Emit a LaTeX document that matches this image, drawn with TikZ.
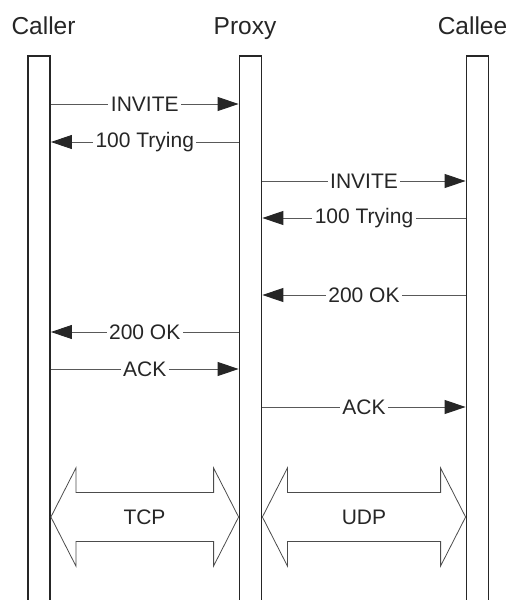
\documentclass[tikz,border=0pt]{standalone}
\usepackage{fontspec}
\setmainfont{Liberation Sans}
\usetikzlibrary{arrows.meta,calc}

\begin{document}
\begin{tikzpicture}[x=1pt,y=-1pt]
\tikzset{lifeline/.style={rectangle, draw=black!85, line width=1.8pt, minimum width=22pt, minimum height=560pt, inner sep=0pt, anchor=north},
  title/.style={font=\fontsize{24.5}{28}\selectfont, text=black!85, anchor=base},
  msg/.style={draw=black!65, line width=0.9pt, -{Triangle[length=21pt,width=14pt,fill=black!85,color=black!85]}},
  lbl/.style={font=\fontsize{21}{24}\selectfont, text=black!85, fill=white, inner xsep=2.5pt, inner ysep=1pt},
  proto/.style={font=\fontsize{21}{24}\selectfont, text=black!85},
  pipe/.style={draw=black!70, line width=0.8pt, line join=miter}}
\useasboundingbox (0,0) rectangle (511,600);
\clip (0,0) rectangle (511,600);

% lifelines
\node[lifeline] (caller) at (39,55) {};
\node[lifeline] (proxy) at (250.5,55) {};
\node[lifeline] (callee) at (477.5,55) {};
\node[title] (tcaller) at (43.5,34) {Caller};
\node[title] (tproxy) at (245,34) {Proxy};
\node[title] (tcallee) at (472.5,34) {Callee};

% messages
\draw[msg] (caller.east |- 0,104) -- node[lbl] (m1) {INVITE} (proxy.west |- 0,104);
\draw[msg] (proxy.west |- 0,142) -- node[lbl] (m2) {100 Trying} (caller.east |- 0,142);
\draw[msg] (proxy.east |- 0,181) -- node[lbl] (m3) {INVITE} (callee.west |- 0,181);
\draw[msg] (callee.west |- 0,218) -- node[lbl] (m4) {100 Trying} (proxy.east |- 0,218);
\draw[msg] (callee.west |- 0,295) -- node[lbl] (m5) {200 OK} (proxy.east |- 0,295);
\draw[msg] (proxy.west |- 0,332) -- node[lbl] (m6) {200 OK} (caller.east |- 0,332);
\draw[msg] (caller.east |- 0,369) -- node[lbl] (m7) {ACK} (proxy.west |- 0,369);
\draw[msg] (proxy.east |- 0,407) -- node[lbl] (m8) {ACK} (callee.west |- 0,407);

% transport
\node[proto] (tcp) at (144.5,517) {TCP};
\node[proto] (udp) at (364,517) {UDP};
\draw[pipe] (caller.east |- tcp) -- ++(25,-49) -- ++(0,24.5) -- ($(proxy.west |- tcp)+(-25,-24.5)$)
  -- ++(0,-24.5) -- (proxy.west |- tcp) -- ++(-25,49) -- ++(0,-24.5)
  -- ($(caller.east |- tcp)+(25,24.5)$) -- ++(0,24.5) -- cycle;
\draw[pipe] (proxy.east |- udp) -- ++(25,-49) -- ++(0,24.5) -- ($(callee.west |- udp)+(-25,-24.5)$)
  -- ++(0,-24.5) -- (callee.west |- udp) -- ++(-25,49) -- ++(0,-24.5)
  -- ($(proxy.east |- udp)+(25,24.5)$) -- ++(0,24.5) -- cycle;
\end{tikzpicture}
\end{document}
